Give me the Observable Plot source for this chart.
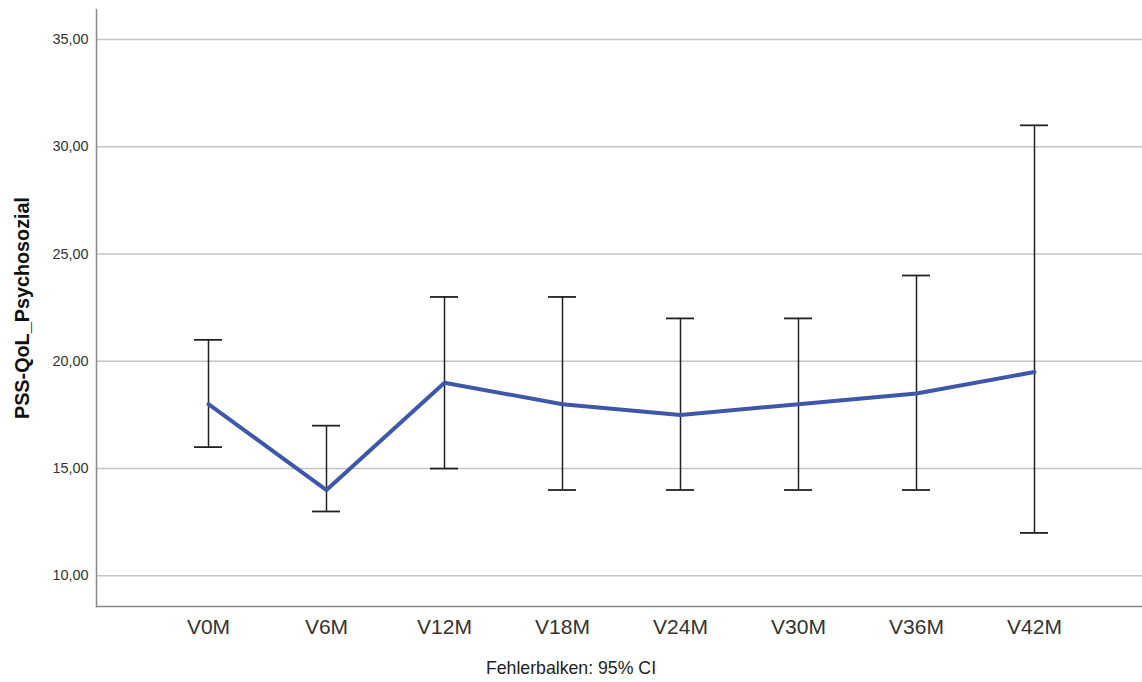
<!DOCTYPE html>
<html>
<head>
<meta charset="utf-8">
<script src="https://cdn.jsdelivr.net/npm/d3@7"></script>
<script src="https://cdn.jsdelivr.net/npm/@observablehq/plot@0.6"></script>
<style>
  body { margin: 0; background: #fff; font-family: "Liberation Sans", Arial, sans-serif; }
  #wrap { position: relative; width: 1142px; height: 682px; }
  #caption { position: absolute; left: 0; width: 1142px; top: 657px; text-align: center; font-size: 17.7px; line-height: 22px; color: #222; }
</style>
</head>
<body>
<div id="wrap">
  <div id="chart"></div>
  <div id="caption">Fehlerbalken: 95% CI</div>
</div>
<script>
const visits = ["V0M", "V6M", "V12M", "V18M", "V24M", "V30M", "V36M", "V42M"];
const means  = [18, 14, 19, 18, 17.5, 18, 18.5, 19.5];
const lower  = [16, 13, 15, 14, 14, 14, 14, 12];
const upper  = [21, 17, 23, 23, 22, 22, 24, 31];
const yTicks = [10, 15, 20, 25, 30, 35];
const yLabel = "PSS-QoL_Psychosozial";

const data = visits.map((v, i) => ({visit: v, mean: means[i], lo: lower[i], hi: upper[i]}));
const fmt = d => d.toFixed(2).replace(".", ",");

const chart = Plot.plot({
  width: 1142,
  height: 645,
  marginLeft: 96,
  marginRight: 0,
  marginTop: 9,
  marginBottom: 39,
  style: {fontFamily: "Liberation Sans, Arial, sans-serif", background: "#fff"},
  x: {domain: visits, type: "point", range: [208, 1034], padding: 0},
  y: {domain: [8.57, 36.4]},
  marks: [
    Plot.ruleY(yTicks, {stroke: "#c4c4c4", strokeWidth: 1.5}),
    Plot.frame({anchor: "left", stroke: "#888", strokeWidth: 1.5}),
    Plot.frame({anchor: "bottom", stroke: "#888", strokeWidth: 1.5}),
    Plot.axisY(yTicks, {tickSize: 0, tickPadding: 8, tickFormat: fmt, fontSize: 14.4, fill: "#333", label: null}),
    Plot.axisX({tickSize: 0, tickPadding: 13, fontSize: 21, fill: "#333", label: null}),
    Plot.text([yLabel], {frameAnchor: "left", textAnchor: "middle", rotate: -90, dx: -74, text: d => d, fontSize: 19.8, fontWeight: "bold", fill: "#111"}),
    Plot.ruleX(data, {x: "visit", y1: "lo", y2: "hi", stroke: "#222", strokeWidth: 1.5}),
    Plot.ruleY(data, {x1: "visit", x2: "visit", y: "lo", stroke: "#222", strokeWidth: 1.8, insetLeft: -14, insetRight: -14}),
    Plot.ruleY(data, {x1: "visit", x2: "visit", y: "hi", stroke: "#222", strokeWidth: 1.8, insetLeft: -14, insetRight: -14}),
    Plot.line(data, {x: "visit", y: "mean", stroke: "#3f57a8", strokeWidth: 4})
  ]
});
document.getElementById("chart").appendChild(chart);
</script>
</body>
</html>
